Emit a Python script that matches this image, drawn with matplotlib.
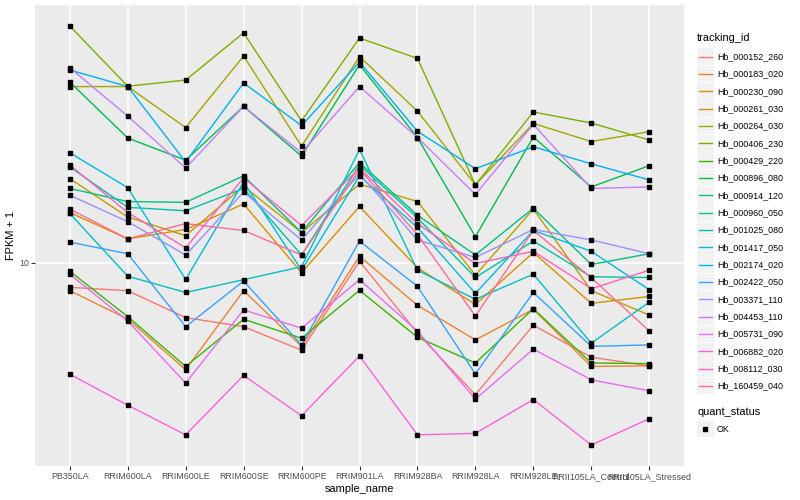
import numpy as np
import matplotlib
matplotlib.use("Agg")
import matplotlib.pyplot as plt
from matplotlib.lines import Line2D
from matplotlib.patches import Rectangle
from matplotlib.ticker import NullLocator

plt.rcParams['font.family'] = ['Liberation Sans', 'DejaVu Sans']

# ── DATA (FPKM + 1) ─────────────────────────────────────
samples = ['PB350LA', 'RRIM600LA', 'RRIM600LE', 'RRIM600SE', 'RRIM600PE', 'RRIM901LA',
           'RRIM928BA', 'RRIM928LA', 'RRIM928LE', 'RRII105LA_Control', 'RRII105LA_Stressed']

tracking_ids = ['Hb_000152_260', 'Hb_000183_020', 'Hb_000230_090', 'Hb_000261_030',
                'Hb_000264_030', 'Hb_000406_230', 'Hb_000429_220', 'Hb_000896_080',
                'Hb_000914_120', 'Hb_000960_050', 'Hb_001025_080', 'Hb_001417_050',
                'Hb_002174_020', 'Hb_002422_050', 'Hb_003371_110', 'Hb_004453_110',
                'Hb_005731_090', 'Hb_006882_020', 'Hb_008112_030', 'Hb_160459_040']

colors = ['#F8766D', '#EA8331', '#D89000', '#C09B00', '#A3A500', '#7CAE00', '#39B600',
          '#00BB4E', '#00BF7D', '#00C1A3', '#00BFC4', '#00BAE0', '#00B0F6', '#35A2FF',
          '#9590FF', '#C77CFF', '#E76BF3', '#FA62DB', '#FF62BC', '#FF6C91']

hb_000152_260 = [8.26, 8.05, 6.54, 6.10, 5.09, 10.1, 5.80, 3.61, 6.17, 4.82, 4.51]
hb_000183_020 = [8.05, 6.47, 4.38, 8.05, 5.24, 10.5, 7.19, 5.51, 6.97, 4.49, 4.51]
hb_000230_090 = [14.7, 12.0, 12.9, 15.7, 9.24, 15.4, 9.60, 7.24, 10.8, 7.30, 7.70]
hb_000261_030 = [19.1, 14.2, 12.3, 18.0, 12.6, 18.3, 16.0, 9.07, 15.1, 8.05, 6.67]
hb_000264_030 = [38.8, 38.8, 28.3, 49.1, 24.5, 48.9, 32.1, 18.2, 29.2, 25.4, 27.4]
hb_000406_230 = [61.9, 38.9, 40.8, 58.7, 29.8, 56.4, 48.2, 18.2, 31.9, 29.3, 25.7]
hb_000429_220 = [9.35, 6.59, 4.49, 6.46, 5.58, 8.07, 5.62, 4.61, 7.01, 4.61, 4.59]
hb_000896_080 = [40.2, 26.1, 22.0, 33.3, 22.7, 45.9, 26.2, 12.2, 26.3, 17.9, 21.1]
hb_000914_120 = [17.7, 16.0, 15.9, 19.5, 12.6, 21.6, 14.4, 10.6, 15.2, 9.85, 10.7]
hb_000960_050 = [20.9, 15.3, 14.9, 17.7, 10.6, 21.2, 14.1, 8.91, 11.8, 8.96, 8.91]
hb_001025_080 = [14.6, 9.00, 7.94, 8.76, 9.68, 23.9, 9.43, 7.53, 9.14, 5.37, 7.37]
hb_001417_050 = [23.3, 17.8, 8.78, 18.6, 9.43, 19.5, 13.1, 7.88, 12.8, 10.9, 8.11]
hb_002174_020 = [44.1, 38.8, 21.7, 39.9, 28.7, 46.9, 27.5, 20.6, 24.4, 21.4, 18.9]
hb_002422_050 = [11.7, 10.7, 6.10, 8.67, 5.30, 11.8, 8.32, 4.24, 7.94, 5.24, 5.30]
hb_003371_110 = [16.8, 13.7, 10.6, 17.2, 11.9, 19.8, 11.9, 10.4, 12.9, 11.9, 10.7]
hb_004453_110 = [44.9, 30.9, 20.7, 33.3, 23.3, 38.8, 26.2, 16.9, 29.0, 17.7, 17.9]
hb_005731_090 = [9.14, 6.37, 3.95, 6.94, 6.03, 8.76, 5.90, 3.49, 5.13, 4.05, 3.72]
hb_006882_020 = [4.23, 3.33, 2.65, 4.19, 3.07, 4.87, 2.65, 2.68, 3.48, 2.45, 3.00]
hb_008112_030 = [21.2, 14.7, 11.2, 19.2, 13.3, 20.7, 13.5, 9.92, 10.9, 8.17, 9.43]
hb_160459_040 = [15.1, 12.0, 13.5, 12.8, 10.6, 20.5, 12.4, 6.62, 12.8, 8.89, 5.90]

series = [hb_000152_260, hb_000183_020, hb_000230_090, hb_000261_030, hb_000264_030,
          hb_000406_230, hb_000429_220, hb_000896_080, hb_000914_120, hb_000960_050,
          hb_001025_080, hb_001417_050, hb_002174_020, hb_002422_050, hb_003371_110,
          hb_004453_110, hb_005731_090, hb_006882_020, hb_008112_030, hb_160459_040]

# ── PLOT ────────────────────────────────────────────────
W, H = 800, 500
fig = plt.figure(figsize=(8, 5), dpi=100)
ax = fig.add_axes([35 / W, 1 - 466 / H, (684 - 35) / W, (466 - 5) / H])
ax.set_facecolor('#EBEBEB')

x = np.arange(len(samples))
for vals, c in zip(series, colors):
    ax.plot(x, vals, color=c, lw=1.0, zorder=3)
for vals in series:
    ax.plot(x, vals, ls='none', marker='s', ms=2.6, color='black', zorder=4)

ax.set_yscale('log')
allv = np.log10(np.concatenate([np.array(s) for s in series]))
lo, hi = allv.min(), allv.max()
pad = (hi - lo) * 0.05
ax.set_ylim(10 ** (lo - pad), 10 ** (hi + pad))
ax.set_xlim(-0.6, len(samples) - 0.4)

ax.set_yticks([10])
ax.set_yticklabels(['10'])
ax.yaxis.set_minor_locator(NullLocator())
ax.set_xticks(x)
ax.set_xticklabels(samples)

ax.grid(True, which='major', color='white', lw=1.1, zorder=1)
ax.set_axisbelow(True)
for s in ax.spines.values():
    s.set_visible(False)
ax.tick_params(axis='both', length=2.8, width=0.8, color='#333333',
               labelcolor='#4D4D4D', labelsize=6.4, pad=1.5)

ax.set_ylabel('FPKM + 1', fontsize=7.9, labelpad=2)
ax.set_xlabel('sample_name', fontsize=7.9, labelpad=2)

# ── LEGENDS ─────────────────────────────────────────────
def fx(px):
    return px / W

def fy(py):
    return 1 - py / H

fig.text(fx(697), fy(38), 'tracking_id', fontsize=7.9, va='center', ha='left')
step = 17.33
for i, (name, c) in enumerate(zip(tracking_ids, colors)):
    cy = 56.7 + i * step
    fig.add_artist(Rectangle((fx(697), fy(cy + 8.3)), 16.5 / W, 16.6 / H,
                             facecolor='#F2F2F2', edgecolor='none'))
    fig.add_artist(Line2D([fx(699), fx(712)], [fy(cy), fy(cy)], color=c, lw=1.0))
    fig.text(fx(717), fy(cy), name, fontsize=6.4, va='center', ha='left')

fig.text(fx(697), fy(412), 'quant_status', fontsize=7.9, va='center', ha='left')
fig.add_artist(Rectangle((fx(697), fy(429 + 8.3)), 16.5 / W, 16.6 / H,
                         facecolor='#F2F2F2', edgecolor='none'))
fig.add_artist(Line2D([fx(705.2)], [fy(429)], ls='none', marker='s', ms=2.6, color='black'))
fig.text(fx(717), fy(429), 'OK', fontsize=6.4, va='center', ha='left')

fig.savefig('out.png', dpi=100)
plt.close(fig)
print("Chart saved: out.png")
